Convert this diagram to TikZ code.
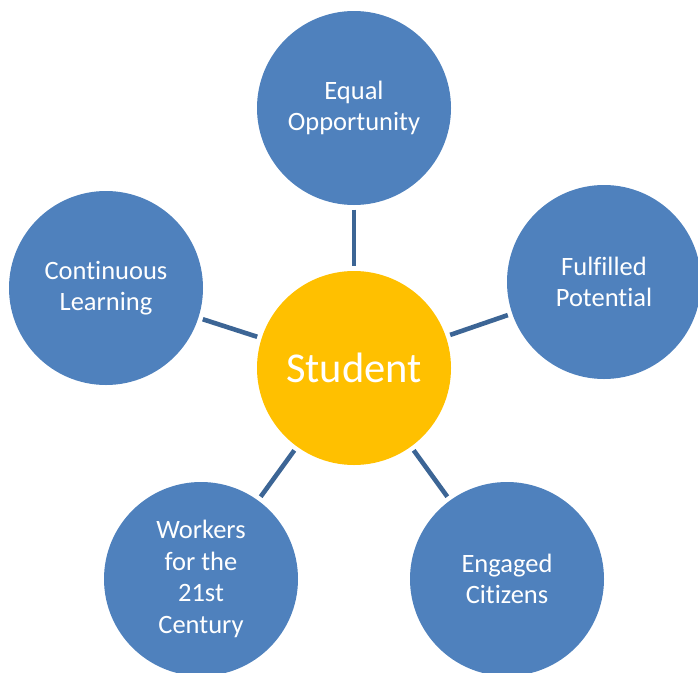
\documentclass[tikz,border=0pt]{standalone}
\usepackage{fontspec}
\setmainfont{Carlito}[RawFeature=-liga]
\definecolor{bubble}{HTML}{4F81BD}
\definecolor{hub}{HTML}{FFC000}
\definecolor{link}{HTML}{3C6595}
\begin{document}
\begin{tikzpicture}[x=1pt,y=-1pt,
  outer/.style={circle,fill=bubble,minimum size=194pt,inner sep=0pt,align=center,text=white,
    font=\fontsize{26.5}{31.5}\selectfont},
  center/.style={circle,fill=hub,minimum size=194pt,inner sep=0pt,text=white,
    font=\fontsize{42.5}{50}\selectfont},
  conn/.style={draw=link,line width=4.6pt,shorten <=4.5pt,shorten >=4.5pt}]
\useasboundingbox (0,0) rectangle (698,672);
\node[center] (s) at (354,368) {Student};
\node[outer] (eo) at (354,108) {Equal\\Opportunity};
\node[outer] (fp) at (604,282) {Fulfilled\\Potential};
\node[outer] (ec) at (507,579) {Engaged\\Citizens};
\node[outer] (wc) at (201,579) {Workers\\for the\\21st\\Century};
\node[outer] (cl) at (106,288) {Continuous\\Learning};
\draw[conn] (eo) -- (s);
\draw[conn] (fp) -- (s);
\draw[conn] (ec) -- (s);
\draw[conn] (wc) -- (s);
\draw[conn] (cl) -- (s);
\end{tikzpicture}
\end{document}
